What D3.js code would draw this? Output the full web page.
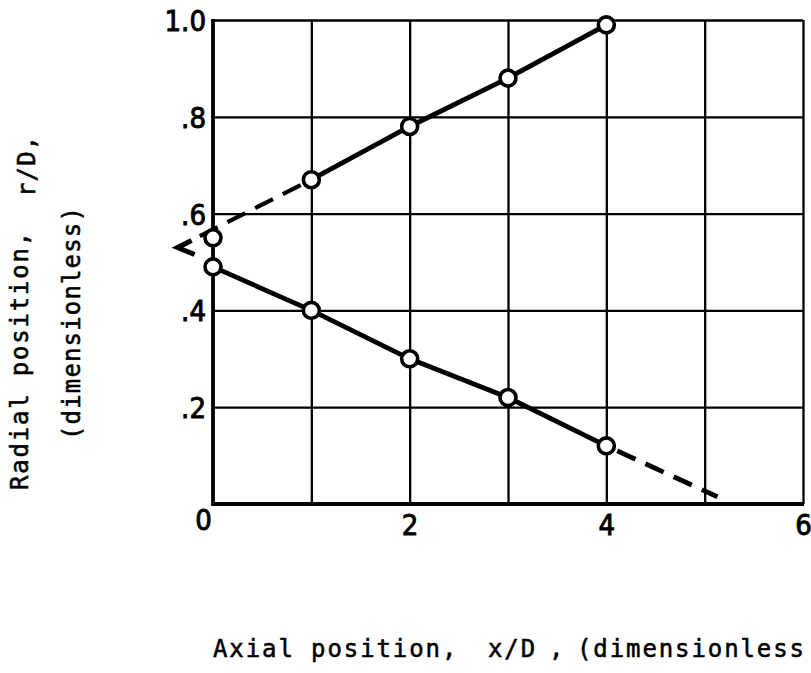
<!DOCTYPE html>
<html>
<head>
<meta charset="utf-8">
<script src="https://cdn.jsdelivr.net/npm/d3@7"></script>
<style>
  html, body { margin: 0; padding: 0; background: #fff; }
  svg { display: block; }
  .tick-label { font-family: "DejaVu Sans Condensed", "DejaVu Sans", sans-serif; font-stretch: condensed; font-size: 29px; fill: #000; stroke: #000; stroke-width: 0.9px; }
  .title { font-family: "DejaVu Sans Mono", monospace; font-size: 24px; fill: #000; stroke: #000; stroke-width: 0.55px; white-space: pre; }
</style>
</head>
<body>
<svg id="chart" width="811" height="673"></svg>
<script>
// Axial position x/D at each measuring station
const stations = [0, 1, 2, 3, 4];
// Outer boundary r/D at each station
const outerR = [0.55, 0.67, 0.78, 0.88, 0.99];
// Inner boundary r/D at each station
const innerR = [0.49, 0.40, 0.30, 0.22, 0.12];
// Extrapolated boundaries (dashed)
const outerExtrapX = [1, -0.36];
const outerExtrapR = [0.67, 0.53];
const innerExtrapX = [4, 5.13];
const innerExtrapR = [0.12, 0.015];
// Tick values and labels
const xTicks = [0, 2, 4, 6];
const xTickLabels = ["0", "2", "4", "6"];
const yTicks = [0.2, 0.4, 0.6, 0.8, 1.0];
const yTickLabels = [".2", ".4", ".6", ".8", "1.0"];
const xGridValues = [1, 2, 3, 4, 5, 6];
const yGridValues = [0.2, 0.4, 0.6, 0.8, 1.0];

(function draw() {
  const svg = d3.select("#chart");
  svg.append("rect").attr("width", 811).attr("height", 673).attr("fill", "#fff");

  const plotLeft = 213, plotRight = 803, plotTop = 20, plotBottom = 504;
  const x = d3.scaleLinear().domain([0, 6]).range([plotLeft, plotRight]);
  const y = d3.scaleLinear().domain([0, 1]).range([plotBottom, plotTop]);

  // Grid lines
  const xGrid = d3.axisBottom(x).tickValues(xGridValues).tickSize(-(plotBottom - plotTop)).tickFormat("");
  svg.append("g").attr("transform", `translate(0,${plotBottom})`).call(xGrid)
    .call(g => g.select(".domain").remove())
    .call(g => g.selectAll("line").attr("stroke", "#000").attr("stroke-width", 2.3));
  const yGrid = d3.axisLeft(y).tickValues(yGridValues).tickSize(-(plotRight - plotLeft)).tickFormat("");
  svg.append("g").attr("transform", `translate(${plotLeft},0)`).call(yGrid)
    .call(g => g.select(".domain").remove())
    .call(g => g.selectAll("line").attr("stroke", "#000").attr("stroke-width", 2.3));

  // Heavier axis lines on the left and bottom
  svg.append("line").attr("x1", x(0)).attr("x2", x(0)).attr("y1", y(1) - 1).attr("y2", y(0) + 1.5)
    .attr("stroke", "#000").attr("stroke-width", 3.8);
  svg.append("line").attr("x1", x(0) - 1.5).attr("x2", x(6) + 1).attr("y1", y(0)).attr("y2", y(0))
    .attr("stroke", "#000").attr("stroke-width", 3.8);

  // Tick labels
  const yAxis = d3.axisLeft(y).tickValues(yTicks).tickSize(0).tickPadding(7)
    .tickFormat((d, i) => yTickLabels[i]);
  svg.append("g").attr("transform", `translate(${plotLeft},0)`).call(yAxis)
    .call(g => g.select(".domain").remove())
    .call(g => g.selectAll("text").attr("class", "tick-label").attr("dy", "0.36em"));
  const xAxis = d3.axisBottom(x).tickValues(xTicks).tickSize(0).tickPadding(10)
    .tickFormat((d, i) => xTickLabels[i]);
  svg.append("g").attr("transform", `translate(0,${plotBottom})`).call(xAxis)
    .call(g => g.select(".domain").remove())
    .call(g => g.selectAll("text").attr("class", "tick-label").attr("dy", "0.72em"))
    .call(g => g.selectAll(".tick").filter(d => d === 0).select("text").attr("dx", -10).attr("dy", "0.55em"));

  // Boundaries
  const line = d3.line().x(d => x(d[0])).y(d => y(d[1]));
  const outerSolid = stations.map((s, i) => [s, outerR[i]]).slice(1);
  const innerSolid = stations.map((s, i) => [s, innerR[i]]);
  svg.append("path").attr("d", line(outerSolid)).attr("fill", "none")
    .attr("stroke", "#000").attr("stroke-width", 4.8);
  svg.append("path").attr("d", line(innerSolid)).attr("fill", "none")
    .attr("stroke", "#000").attr("stroke-width", 4.8);

  const outerDash = outerExtrapX.map((v, i) => [v, outerExtrapR[i]]);
  const innerDash = innerExtrapX.map((v, i) => [v, innerExtrapR[i]]);
  svg.append("path").attr("d", line(outerDash)).attr("fill", "none")
    .attr("stroke", "#000").attr("stroke-width", 4.2).attr("stroke-dasharray", "20 11")
    .attr("stroke-dashoffset", -12);
  svg.append("path").attr("d", line(innerDash)).attr("fill", "none")
    .attr("stroke", "#000").attr("stroke-width", 4.8).attr("stroke-dasharray", "20 11")
    .attr("stroke-dashoffset", -12);

  // Open arrowhead at the end of the outer extrapolation
  const tipX = x(outerExtrapX[1]), tipY = y(outerExtrapR[1]);
  svg.append("path")
    .attr("d", `M${tipX + 14},${tipY - 7} L${tipX},${tipY} L${tipX + 17},${tipY + 7}`)
    .attr("fill", "none").attr("stroke", "#000").attr("stroke-width", 5)
    .attr("stroke-linejoin", "miter");

  // Measured points
  const pts = stations.map((s, i) => [s, outerR[i]]).concat(stations.map((s, i) => [s, innerR[i]]));
  svg.append("g").selectAll("circle").data(pts).join("circle")
    .attr("cx", d => x(d[0])).attr("cy", d => y(d[1])).attr("r", 8)
    .attr("fill", "#fff").attr("stroke", "#000").attr("stroke-width", 3.6);

  // Axis titles
  svg.append("text").attr("class", "title").attr("x", 213).attr("y", 657)
    .attr("letter-spacing", 1.9).text("Axial position,");
  svg.append("text").attr("class", "title").attr("x", 488).attr("y", 657)
    .attr("letter-spacing", 1.9).text("x/D");
  svg.append("text").attr("class", "title").attr("x", 549).attr("y", 657)
    .text(",");
  svg.append("text").attr("class", "title").attr("x", 577).attr("y", 657)
    .attr("letter-spacing", 1.9).text("(dimensionless");

  svg.append("text").attr("class", "title").attr("transform", "translate(28,490) rotate(-90)")
    .attr("letter-spacing", 1.8).text("Radial position,");
  svg.append("text").attr("class", "title").attr("transform", "translate(35,197) rotate(-90)")
    .attr("letter-spacing", 1.15).text("r/D,");
  svg.append("text").attr("class", "title").attr("transform", "translate(80,440) rotate(-90)")
    .attr("letter-spacing", 1.15).text("(dimensionless)");
})();
</script>
</body>
</html>
